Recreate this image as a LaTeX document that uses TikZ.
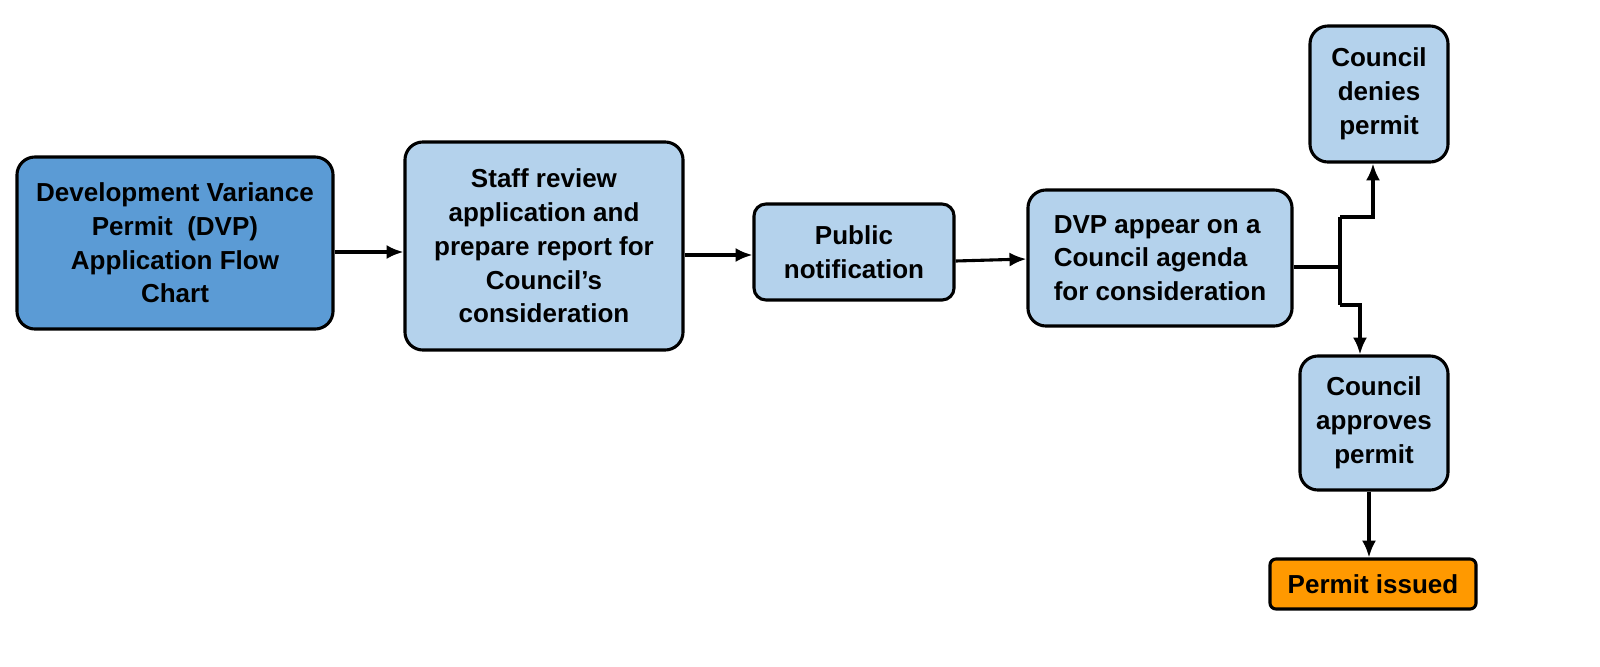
\documentclass[tikz,border=0pt]{standalone}
\usepackage{fontspec}
\setmainfont{Liberation Sans}
\usetikzlibrary{positioning, arrows.meta}
\definecolor{lightblue}{HTML}{B4D2EC}
\definecolor{darkblue}{HTML}{5B9BD5}
\definecolor{permitorange}{HTML}{FF9900}
\begin{document}
\begin{tikzpicture}[
            x=0.025cm, y=-0.025cm,
            stage/.style={rectangle, rounded corners=0.45cm, draw, line width=2.2pt, fill=lightblue, align=center, font=\fontsize{18.5}{24}\selectfont\bfseries, inner sep=2pt},
            flow/.style={line width=2.2pt, -{Latex[length=12pt,width=10pt]}},
            link/.style={line width=2.2pt}
        ]
        \useasboundingbox (0,0) rectangle (1600,666);

        \node[stage, fill=darkblue, minimum width=7.9cm, minimum height=4.3cm] (chart) at (175,243) {Development Variance\\Permit\ \ (DVP)\\Application Flow\\Chart};
        \node[stage, minimum width=6.95cm, minimum height=5.2cm] (review) at (544,246) {Staff review\\application and\\prepare report for\\Council’s\\consideration};
        \node[stage, rounded corners=0.3cm, minimum width=5cm, minimum height=2.4cm] (notice) at (854,252) {Public\\notification};
        \node[stage, minimum width=6.6cm, minimum height=3.4cm, align=left] (agenda) at (1160,258) {DVP appear on a\\Council agenda\\for consideration};
        \node[stage, minimum width=3.45cm, minimum height=3.4cm] (denies) at (1379,94) {Council\\denies\\permit};
        \node[stage, minimum width=3.7cm, minimum height=3.35cm] (approves) at (1374,423) {Council\\approves\\permit};
        \node[stage, rounded corners=0.15cm, fill=permitorange, minimum width=5.15cm, minimum height=1.25cm] (issued) at (1373,584) {Permit issued};

        \coordinate (split) at (1340,267);
        \coordinate (upper) at (1340,217);
        \coordinate (lower) at (1340,305);

        \draw[flow] (chart.east |- 0,252) -- (review.west |- 0,252);
        \draw[flow] (review.east |- 0,255) -- (notice.west |- 0,255);
        \draw[flow] (notice.east |- 0,261) -- (agenda.west |- 0,259);
        \draw[link] (agenda.east |- split) -- (split);
        \draw[link] (upper) -- (lower);
        \draw[flow] (upper) -- (1373,217) -- (denies.south -| 1373,0);
        \draw[flow] (lower) -- (1360,305) -- (approves.north -| 1360,0);
        \draw[flow] (approves.south -| 1369,0) -- (issued.north -| 1369,0);

    \end{tikzpicture}
\end{document}
